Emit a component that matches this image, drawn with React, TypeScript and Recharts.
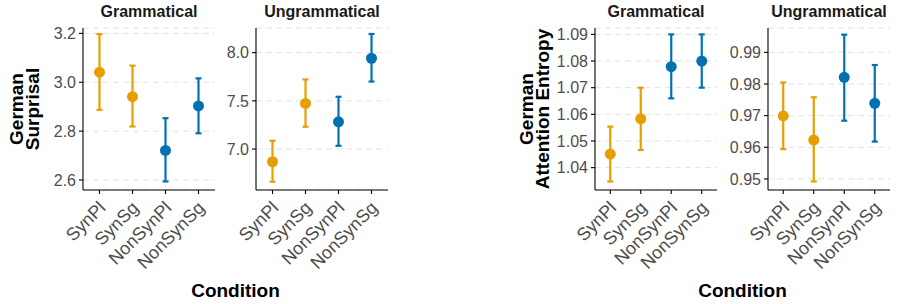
import { ComposedChart, Line, XAxis, YAxis, CartesianGrid, ErrorBar } from "recharts"

const conditions = ["SynPl", "SynSg", "NonSynPl", "NonSynSg"]
const conditionGroup = ["syn", "syn", "non", "non"]

// German surprisal, grammatical sentences
const surprisalGramMean = [3.041, 2.941, 2.721, 2.903]
const surprisalGramLow = [2.887, 2.819, 2.594, 2.791]
const surprisalGramHigh = [3.197, 3.068, 2.853, 3.016]

// German surprisal, ungrammatical sentences
const surprisalUngramMean = [6.868, 7.473, 7.283, 7.942]
const surprisalUngramLow = [6.661, 7.231, 7.034, 7.7]
const surprisalUngramHigh = [7.086, 7.722, 7.542, 8.194]

// German attention entropy, grammatical sentences
const entropyGramMean = [1.0451, 1.0583, 1.0779, 1.08]
const entropyGramLow = [1.0348, 1.0466, 1.066, 1.07]
const entropyGramHigh = [1.0554, 1.07, 1.09, 1.09]

// German attention entropy, ungrammatical sentences
const entropyUngramMean = [0.9699, 0.9623, 0.9821, 0.9739]
const entropyUngramLow = [0.9594, 0.9492, 0.9684, 0.9618]
const entropyUngramHigh = [0.9805, 0.9758, 0.9956, 0.986]

const surprisalGramTicks = [2.6, 2.8, 3.0, 3.2]
const surprisalUngramTicks = [7.0, 7.5, 8.0]
const entropyGramTicks = [1.04, 1.05, 1.06, 1.07, 1.08, 1.09]
const entropyUngramTicks = [0.95, 0.96, 0.97, 0.98, 0.99]

const ORANGE = "#E69F00"
const BLUE = "#0072B2"
const TICK_GREY = "#4D4D4D"
const FONT = "'Liberation Sans', Arial, Helvetica, sans-serif"
const HEIGHT = 304

function buildRows(mean: number[], low: number[], high: number[]) {
  return conditions.map((cond, i) => {
    const isSyn = conditionGroup[i] === "syn"
    const err = [mean[i] - low[i], high[i] - mean[i]]
    return {
      cond,
      syn: isSyn ? mean[i] : null,
      synErr: isSyn ? err : null,
      non: isSyn ? null : mean[i],
      nonErr: isSyn ? null : err,
    }
  })
}

// rotated condition labels, right/top corner pinned under the tick
function ConditionTick(props: any) {
  const { x, y, payload } = props
  const tx = x - 2
  return (
    <text
      x={tx}
      y={y}
      dy="0.71em"
      textAnchor="end"
      transform={`rotate(-45 ${tx} ${y})`}
      fill={TICK_GREY}
      fontSize={18}
      fontFamily={FONT}
    >
      {payload.value}
    </text>
  )
}

interface PanelProps {
  left: number
  width: number
  axisWidth: number
  domain: [number, number]
  ticks: number[]
  digits: number
  rows: ReturnType<typeof buildRows>
}

function Panel({ left, width, axisWidth, domain, ticks, digits, rows }: PanelProps) {
  return (
    <div style={{ position: "absolute", left, top: 0 }}>
      <ComposedChart
        width={width}
        height={HEIGHT}
        data={rows}
        margin={{ top: 28, right: 5, bottom: 0, left: 0 }}
      >
        <CartesianGrid
          horizontal
          vertical={false}
          stroke="#E2E2E2"
          strokeDasharray="6 4"
        />
        <XAxis
          dataKey="cond"
          scale="band"
          interval={0}
          height={HEIGHT - 190}
          tickSize={4}
          tickMargin={6}
          axisLine={{ stroke: "#000", strokeWidth: 1.1 }}
          tickLine={{ stroke: "#000", strokeWidth: 1.1 }}
          tick={<ConditionTick />}
        />
        <YAxis
          type="number"
          domain={domain}
          ticks={ticks}
          allowDataOverflow
          width={axisWidth}
          tickSize={4}
          tickMargin={3}
          tickFormatter={(v: number) => v.toFixed(digits)}
          axisLine={{ stroke: "#000", strokeWidth: 1.1 }}
          tickLine={{ stroke: "#000", strokeWidth: 1.1 }}
          tick={{ fill: TICK_GREY, fontSize: 16, fontFamily: FONT }}
        />
        <Line
          dataKey="syn"
          stroke="none"
          isAnimationActive={false}
          activeDot={false}
          dot={{ r: 5.5, fill: ORANGE, stroke: "none" }}
        >
          <ErrorBar
            dataKey="synErr"
            direction="y"
            width={3}
            strokeWidth={2.2}
            stroke={ORANGE}
            isAnimationActive={false}
          />
        </Line>
        <Line
          dataKey="non"
          stroke="none"
          isAnimationActive={false}
          activeDot={false}
          dot={{ r: 5.5, fill: BLUE, stroke: "none" }}
        >
          <ErrorBar
            dataKey="nonErr"
            direction="y"
            width={3}
            strokeWidth={2.2}
            stroke={BLUE}
            isAnimationActive={false}
          />
        </Line>
      </ComposedChart>
    </div>
  )
}

const stripStyle = { fontFamily: FONT, fontSize: 16, fontWeight: 700, fill: "#1A1A1A" }
const titleStyle = { fontFamily: FONT, fontSize: 19, fontWeight: 700, fill: "#000" }

export default function App() {
  return (
    <div
      style={{
        position: "absolute",
        left: 0,
        top: 0,
        width: 897,
        height: HEIGHT,
        background: "#fff",
        overflow: "hidden",
      }}
    >
      <Panel
        left={0}
        width={220}
        axisWidth={83}
        domain={[2.559, 3.222]}
        ticks={surprisalGramTicks}
        digits={1}
        rows={buildRows(surprisalGramMean, surprisalGramLow, surprisalGramHigh)}
      />
      <Panel
        left={215}
        width={178}
        axisWidth={41}
        domain={[6.575, 8.256]}
        ticks={surprisalUngramTicks}
        digits={1}
        rows={buildRows(surprisalUngramMean, surprisalUngramLow, surprisalUngramHigh)}
      />
      <Panel
        left={540}
        width={182}
        axisWidth={55}
        domain={[1.0316, 1.0924]}
        ticks={entropyGramTicks}
        digits={2}
        rows={buildRows(entropyGramMean, entropyGramLow, entropyGramHigh)}
      />
      <Panel
        left={717}
        width={178}
        axisWidth={51}
        domain={[0.9465, 0.9977]}
        ticks={entropyUngramTicks}
        digits={2}
        rows={buildRows(entropyUngramMean, entropyUngramLow, entropyUngramHigh)}
      />

      {/* facet strips and axis titles */}
      <svg
        width={897}
        height={HEIGHT}
        style={{ position: "absolute", left: 0, top: 0, pointerEvents: "none" }}
      >
        <text x={149} y={17} textAnchor="middle" style={stripStyle}>Grammatical</text>
        <text x={322} y={17} textAnchor="middle" style={stripStyle}>Ungrammatical</text>
        <text x={656} y={17} textAnchor="middle" style={stripStyle}>Grammatical</text>
        <text x={829} y={17} textAnchor="middle" style={stripStyle}>Ungrammatical</text>

        <text x={235.5} y={297} textAnchor="middle" style={titleStyle}>Condition</text>
        <text x={742.5} y={297} textAnchor="middle" style={titleStyle}>Condition</text>

        <text x={22.5} y={109} textAnchor="middle" transform="rotate(-90 22.5 109)" style={titleStyle}>German</text>
        <text x={39} y={109} textAnchor="middle" transform="rotate(-90 39 109)" style={titleStyle}>Surprisal</text>
        <text x={533} y={109} textAnchor="middle" transform="rotate(-90 533 109)" style={titleStyle}>German</text>
        <text x={549} y={109} textAnchor="middle" transform="rotate(-90 549 109)" style={titleStyle}>Attention Entropy</text>
      </svg>
    </div>
  )
}
